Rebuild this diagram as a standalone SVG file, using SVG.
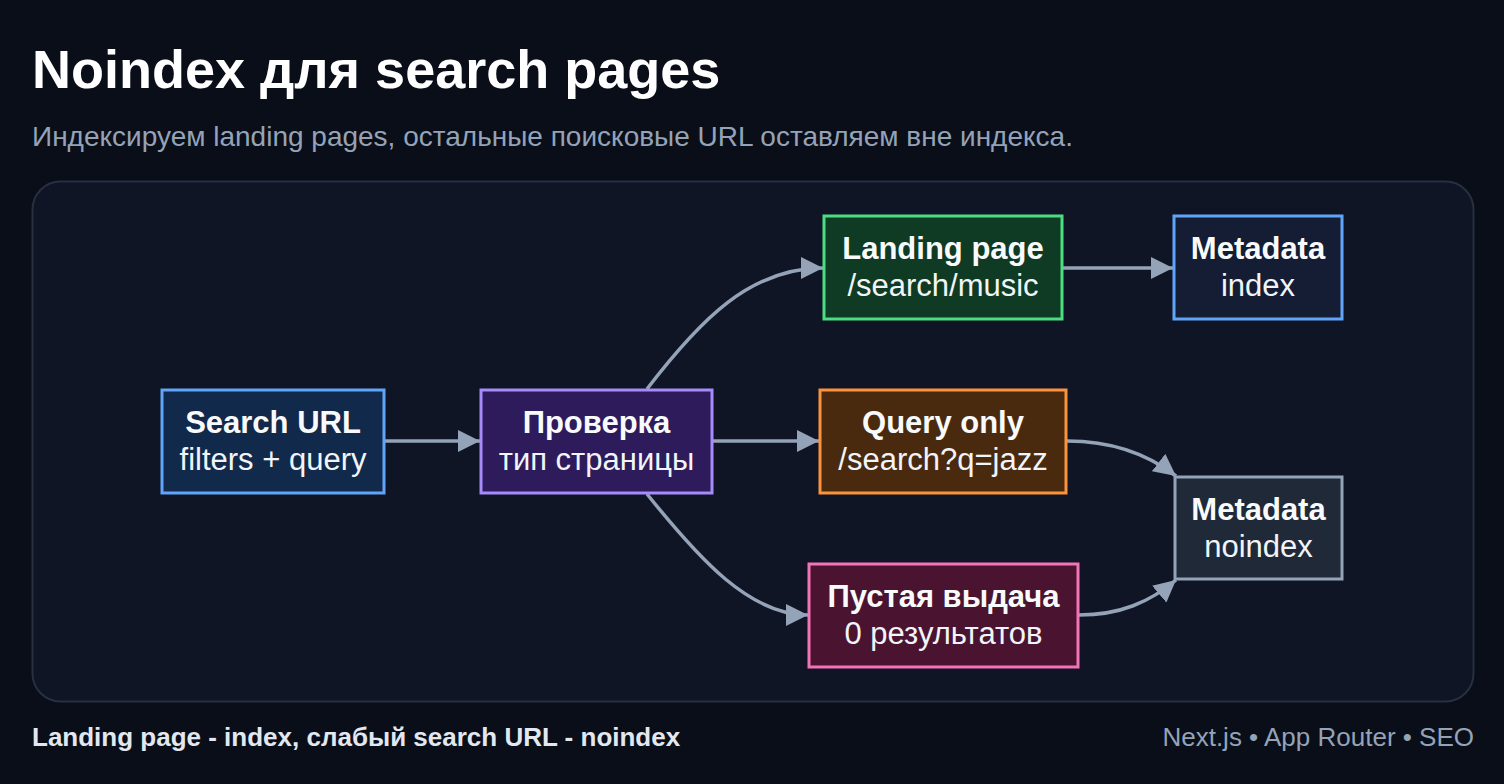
<svg xmlns="http://www.w3.org/2000/svg" width="1504" height="784" viewBox="0 0 1504 784">
  <defs>
    <style>
      text { font-family: "Liberation Sans", Arial, Helvetica, sans-serif; }
      .title { font-size: 54px; font-weight: bold; fill: #ffffff; }
      .sub { font-size: 28px; fill: #94a3b8; }
      .foot { font-size: 26px; font-weight: bold; fill: #e2e8f0; }
      .footr { font-size: 26px; fill: #94a3b8; }
      .nb { stroke-width: 3; }
      .t1 { font-size: 31px; font-weight: bold; fill: #f8fafc; text-anchor: middle; }
      .t2 { font-size: 31px; fill: #f1f5f9; text-anchor: middle; }
      .edge { fill: none; stroke: #94a3b8; stroke-width: 3.5; marker-end: url(#arr); }
    </style>
    <marker id="arr" markerUnits="userSpaceOnUse" markerWidth="24" markerHeight="22" refX="22" refY="11" orient="auto">
      <path d="M0,0 L22,11 L0,22 z" fill="#94a3b8"/>
    </marker>
  </defs>
  <rect x="0" y="0" width="1504" height="784" fill="#0a0e18"/>
  <text class="title" x="32" y="88">Noindex для search pages</text>
  <text class="sub" x="32" y="146">Индексируем landing pages, остальные поисковые URL оставляем вне индекса.</text>
  <rect x="32.5" y="181.5" width="1441" height="520" rx="28" fill="#0f1524" stroke="#263041" stroke-width="2"/>

  <g id="connectors">
    <path class="edge" d="M385,441 L480,441"/>
    <path class="edge" d="M713,441 L819,441"/>
    <path class="edge" d="M647,389 C 700,320 750,268 823,268"/>
    <path class="edge" d="M647,494 C 700,560 750,615 808,615"/>
    <path class="edge" d="M1063,268 L1173,268"/>
    <path class="edge" d="M1067,441 C 1110,441 1145,452 1176,476"/>
    <path class="edge" d="M1079,615 C 1120,615 1150,602 1176,580"/>
  </g>

  <g id="search-url">
    <rect class="nb" x="162" y="390" width="222" height="103" fill="#112a4b" stroke="#60a5fa"/>
    <text class="t1" x="273" y="433">Search URL</text>
    <text class="t2" x="273" y="470">filters + query</text>
  </g>
  <g id="proverka">
    <rect class="nb" x="481" y="390" width="231" height="103" fill="#2d1b5c" stroke="#a78bfa"/>
    <text class="t1" x="596.5" y="433">Проверка</text>
    <text class="t2" x="596.5" y="470">тип страницы</text>
  </g>
  <g id="landing">
    <rect class="nb" x="824" y="216" width="238" height="103" fill="#0f3b24" stroke="#4ade80"/>
    <text class="t1" x="943" y="259">Landing page</text>
    <text class="t2" x="943" y="296">/search/music</text>
  </g>
  <g id="meta-index">
    <rect class="nb" x="1174" y="216" width="168" height="103" fill="#141d33" stroke="#60a5fa"/>
    <text class="t1" x="1258" y="259">Metadata</text>
    <text class="t2" x="1258" y="296">index</text>
  </g>
  <g id="query-only">
    <rect class="nb" x="820" y="390" width="246" height="103" fill="#4a2a0e" stroke="#fb923c"/>
    <text class="t1" x="943" y="433">Query only</text>
    <text class="t2" x="943" y="470">/search?q=jazz</text>
  </g>
  <g id="meta-noindex">
    <rect class="nb" x="1175" y="477" width="167" height="102" fill="#1f2937" stroke="#94a3b8"/>
    <text class="t1" x="1258.5" y="520">Metadata</text>
    <text class="t2" x="1258.5" y="557">noindex</text>
  </g>
  <g id="empty">
    <rect class="nb" x="809" y="564" width="269" height="103" fill="#4a1431" stroke="#f472b6"/>
    <text class="t1" x="943.5" y="607">Пустая выдача</text>
    <text class="t2" x="943.5" y="644">0 результатов</text>
  </g>

  <text class="foot" x="32" y="746">Landing page - index, слабый search URL - noindex</text>
  <text class="footr" x="1474" y="746" text-anchor="end">Next.js • App Router • SEO</text>
</svg>
